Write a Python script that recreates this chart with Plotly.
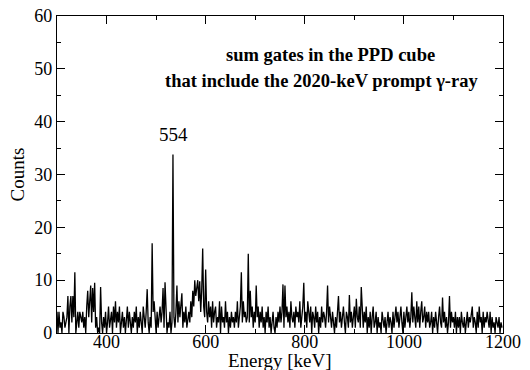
import plotly.graph_objects as go

# Spectrum: 2-keV bins from 300 keV
bin_start = 300
bin_width = 2
counts = [
    4, 0, 4, 1, 2, 0, 4, 3, 1, 2, 3, 7, 0, 5, 7,
    2, 7, 3, 11.5, 0, 2, 4, 1, 4, 3, 2, 4, 1, 3, 0,
    5, 8, 3, 6, 9, 2, 8.5, 4, 9.5, 1, 3, 0, 1, 0, 8.7,
    2, 0, 3, 1, 4, 0, 2, 5, 1, 3, 4, 0, 5, 2, 6,
    1, 4, 2, 5, 0, 3, 4, 1, 3, 0, 2, 5, 1, 4, 2,
    0, 3, 1, 4, 2, 5, 0, 3, 1, 4, 2, 0, 5, 3, 1,
    4, 8.3, 2, 0, 3, 1, 17, 4, 6, 2, 0, 4, 1, 3, 5,
    2, 4, 8.5, 1, 9.6, 3, 0, 2, 1, 4, 0, 2, 33.8, 3, 1,
    4, 9, 2, 6, 3, 5, 7.5, 1, 4, 2, 5, 1, 3, 4, 2,
    6, 3, 8, 5, 10, 7, 9, 10, 6, 9.8, 4, 8, 16, 5, 3,
    12, 4, 2, 6, 3, 5, 1, 6, 2, 4, 5, 1, 3, 2, 6,
    0, 5, 2, 3, 1, 6, 2, 4, 0, 3, 1, 4, 2, 3, 1,
    4, 2, 6, 1, 3, 5, 11.5, 2, 6, 3, 4, 2, 3, 15, 2,
    8, 3, 5, 1, 4, 2, 9, 3, 5, 1, 4, 2, 5, 1, 3,
    0, 4, 2, 5, 1, 3, 0, 2, 4, 1, 0, 3, 1, 4, 2,
    5, 2, 4, 9.2, 1, 9, 3, 5, 2, 4, 1, 6, 3, 2, 4,
    1, 5, 3, 4, 2, 6, 1, 3, 5, 9.5, 2, 4, 1, 6, 3,
    2, 5, 0, 4, 3, 1, 5, 2, 4, 0, 3, 1, 5, 2, 4,
    3, 1, 4, 9, 2, 5, 3, 1, 4, 2, 0, 3, 1, 4, 7,
    2, 4, 1, 3, 5, 2, 0, 4, 3, 1, 7.2, 2, 4, 1, 3,
    5, 1, 6.5, 3, 2, 5, 1, 8.7, 3, 1, 4, 2, 5, 0, 3,
    1, 4, 0, 3, 5, 1, 2, 4, 0, 3, 1, 2, 0, 4, 2,
    1, 3, 0, 2, 4, 1, 3, 2, 0, 4, 1, 3, 5, 2, 4,
    1, 3, 5, 2, 0, 4, 1, 3, 5, 2, 4, 1, 3, 7.7, 2,
    5, 3, 1, 6, 2, 5, 1, 4, 6, 2, 3, 5, 1, 4, 2,
    4, 1, 2, 4, 0, 3, 1, 4, 2, 0, 3, 5, 2, 1, 6.7,
    2, 4, 1, 3, 0, 2, 7, 1, 4, 2, 3, 1, 4, 0, 3,
    1, 3, 0, 4, 2, 1, 3, 0, 2, 4, 1, 3, 2, 4, 5,
    1, 3, 2, 0, 4, 1, 5, 2, 3, 0, 4, 1, 3, 2, 4,
    2, 1, 4, 0, 3, 1, 2, 0, 3, 2, 1, 3, 0, 2, 1,
]
energy = [bin_start + bin_width * i for i in range(len(counts))]

peak_label = "554"
peak_label_pos = (535, 37.5)
note_lines = ["sum gates in the PPD cube",
              "that include the 2020-keV prompt \u03b3-ray"]
x_title = "Energy [keV]"
y_title = "Counts"

x_ticks = [400, 600, 800, 1000, 1200]
y_ticks = [0, 10, 20, 30, 40, 50, 60]

FONT = "Liberation Serif"

fig = go.Figure()
fig.add_trace(go.Scatter(
    x=energy, y=counts, mode="lines",
    line=dict(color="black", width=1.3),
    showlegend=False, hoverinfo="skip",
))

axis_common = dict(
    showline=True, linecolor="black", linewidth=1.3, mirror="allticks",
    ticks="inside", ticklen=8, tickwidth=1.2, tickcolor="black",
    showgrid=False, zeroline=False,
    tickfont=dict(family=FONT, size=18, color="black"),
)

fig.update_xaxes(
    range=[300, 1200], tickvals=x_ticks,
    minor=dict(dtick=100, tick0=300, ticks="inside", ticklen=4, tickwidth=1, tickcolor="black"),
    ticklabelstandoff=-8,
    automargin=False,
    **axis_common,
)
fig.update_yaxes(
    range=[0, 60], tickvals=y_ticks,
    minor=dict(dtick=5, tick0=0, ticks="inside", ticklen=4, tickwidth=1, tickcolor="black"),
    title=dict(text=y_title, font=dict(family=FONT, size=19, color="black"), standoff=4),
    automargin=False,
    **axis_common,
)

# x-axis title placed just below the tick labels
fig.add_annotation(x=0.5, y=-0.087, xref="paper", yref="paper", text=x_title,
                   showarrow=False, xanchor="center", yanchor="middle",
                   font=dict(family=FONT, size=19, color="black"))

fig.add_annotation(x=peak_label_pos[0], y=peak_label_pos[1], text=peak_label,
                   showarrow=False, xanchor="center", yanchor="middle",
                   font=dict(family=FONT, size=19, color="black"))
fig.add_annotation(x=0.614, y=0.877, xref="paper", yref="paper", text="<b>" + note_lines[0] + "</b>",
                   showarrow=False, xanchor="center", yanchor="middle",
                   font=dict(family=FONT, size=18.5, color="black"))
fig.add_annotation(x=0.594, y=0.795, xref="paper", yref="paper", text="<b>" + note_lines[1] + "</b>",
                   showarrow=False, xanchor="center", yanchor="middle",
                   font=dict(family=FONT, size=18.5, color="black"))

fig.update_layout(
    width=530, height=370,
    margin=dict(l=57, r=27, t=16, b=37),
    paper_bgcolor="white", plot_bgcolor="white",
)

fig.write_html("out.html", config={"displayModeBar": False},
               post_script="document.body.style.margin='0';")
